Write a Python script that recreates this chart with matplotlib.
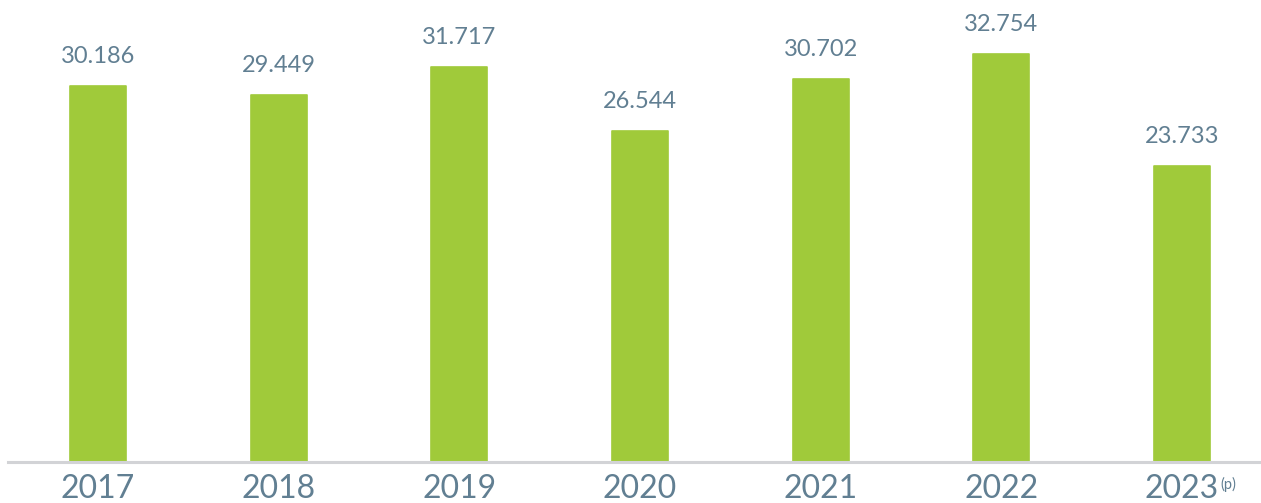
import matplotlib.pyplot as plt

years = ['2017', '2018', '2019', '2020', '2021', '2022', '2023']
values = [30.186, 29.449, 31.717, 26.544, 30.702, 32.754, 23.733]
labels = ['30.186', '29.449', '31.717', '26.544', '30.702', '32.754', '23.733']

BAR_COLOR = '#a0ca3a'
TEXT_COLOR = '#617f92'
LINE_COLOR = '#d2d3d6'

plt.rcParams['font.family'] = ['Lato', 'DejaVu Sans']

fig = plt.figure(figsize=(12.61, 5.03), dpi=100)
ax = fig.add_axes([8 / 1261, 41 / 503, 1 - 8 / 1261, 462 / 503])

x = list(range(len(years)))
ax.bar(x, values, width=0.31, color=BAR_COLOR, edgecolor=BAR_COLOR,
       linewidth=1.2, joinstyle='round')

for xi, v, lab in zip(x, values, labels):
    ax.annotate(lab, (xi, v), xytext=(0, 16.5), textcoords='offset points',
                ha='center', va='baseline', fontsize=17, color=TEXT_COLOR)

# uniform spacing fitted to the reference (approx 98 px + 180.6 px per bar)
ax.set_xlim(-0.498, 6.438)
ax.set_ylim(0, 37.05)
ax.set_xticks(x)
ax.set_xticklabels(years, fontsize=23, color=TEXT_COLOR)
ax.tick_params(axis='x', length=0, pad=9)
ax.set_yticks([])

for s in ['top', 'left', 'right']:
    ax.spines[s].set_visible(False)
ax.spines['bottom'].set_color(LINE_COLOR)
ax.spines['bottom'].set_linewidth(2.2)

ax.annotate('(p)', (6, 0), xytext=(27.5, -11), textcoords='offset points',
            ha='left', va='top', fontsize=10.5, color=TEXT_COLOR)

fig.savefig('out.png', dpi=100)
